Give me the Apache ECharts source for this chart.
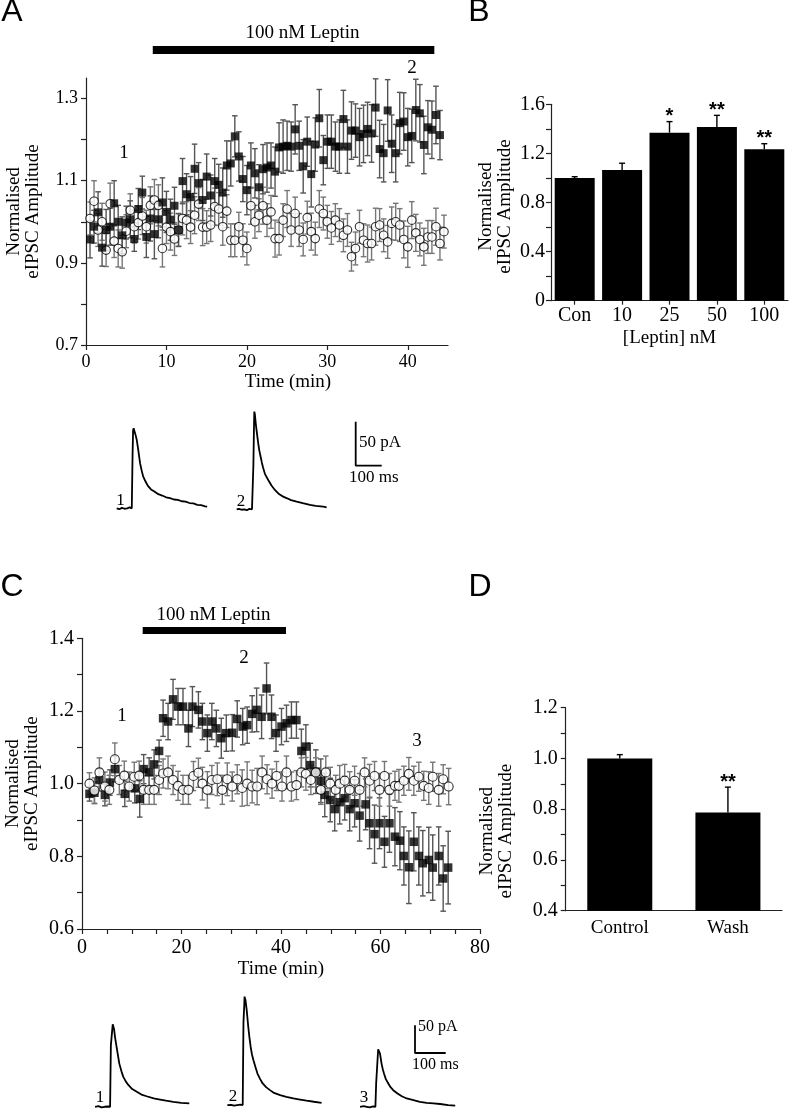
<!DOCTYPE html>
<html><head><meta charset="utf-8">
<script src="https://cdn.jsdelivr.net/npm/echarts@6/dist/echarts.min.js"></script>
<style>html,body{margin:0;padding:0;background:#fff}#c{width:797px;height:1116px}</style>
</head><body><div id="c"></div>
<script>
// ---------- Panel A: time course ----------
const aTimeLep = [0.5,1,1.5,2,2.5,3,3.5,4,4.5,5,5.5,6,6.5,7,7.5,8,8.5,9,9.5,10,10.5,11,11.5,12,12.5,13,13.5,14,14.5,15,15.5,16,16.5,17,17.5,18,18.5,19,19.5,20,20.5,21,21.5,22,22.5,23,23.5,24,24.5,25,25.5,26,26.5,27,27.5,28,28.5,29,29.5,30,30.5,31,31.5,32,32.5,33,33.5,34,34.5,35,35.5,36,36.5,37,37.5,38,38.5,39,39.5,40,40.5,41,41.5,42,42.5,43,43.5,44];
const aLeptin = [0.957,0.988,1.023,0.937,0.98,0.988,1.045,1.0,0.967,0.998,1.006,0.958,1.031,1.071,0.963,1.008,0.97,1.006,1.047,1.024,1.005,1.039,0.98,1.099,1.067,1.06,1.129,1.094,1.053,1.11,1.064,1.099,1.09,1.071,1.137,1.142,1.208,1.159,1.104,1.077,1.137,1.118,1.084,1.128,1.132,1.137,1.122,1.181,1.183,1.185,1.183,1.225,1.185,1.135,1.195,1.116,1.188,1.252,1.15,1.195,1.195,1.183,1.183,1.25,1.183,1.222,1.222,1.206,1.214,1.226,1.215,1.278,1.177,1.167,1.271,1.19,1.167,1.24,1.244,1.206,1.209,1.272,1.264,1.187,1.23,1.224,1.26,1.211];
const aLeptinErr = [0.045,0.04,0.05,0.045,0.05,0.045,0.055,0.04,0.045,0.04,0.045,0.03,0.05,0.04,0.05,0.055,0.06,0.045,0.06,0.05,0.05,0.045,0.04,0.055,0.05,0.05,0.06,0.05,0.05,0.055,0.05,0.055,0.05,0.06,0.06,0.055,0.05,0.06,0.055,0.06,0.055,0.06,0.055,0.06,0.06,0.055,0.06,0.06,0.065,0.06,0.06,0.06,0.06,0.065,0.06,0.08,0.065,0.07,0.06,0.065,0.065,0.06,0.065,0.07,0.065,0.07,0.065,0.07,0.07,0.065,0.07,0.07,0.07,0.07,0.075,0.07,0.07,0.075,0.07,0.07,0.065,0.075,0.07,0.07,0.065,0.07,0.07,0.06];
const aTimeCtl = [0.5,1,1.5,2,2.5,3,3.5,4,4.5,5,5.5,6,6.5,7,7.5,8,8.5,9,9.5,10,10.5,11,11.5,12,12.5,13,13.5,14,14.5,15,15.5,16,16.5,17,17.5,18,18.5,19,19.5,20,20.5,21,21.5,22,22.5,23,23.5,24,24.5,25,25.5,26,26.5,27,27.5,28,28.5,29,29.5,30,30.5,31,31.5,32,32.5,33,33.5,34,34.5,35,35.5,36,36.5,37,37.5,38,38.5,39,39.5,40,40.5,41,41.5,42,42.5,43,43.5,44,44.5];
const aControl = [1.008,1.05,0.98,1.0,0.931,1.044,0.953,0.935,0.927,0.977,1.028,0.988,0.998,1.014,0.988,1.04,1.053,1.04,0.935,0.987,0.976,0.958,0.98,1.008,1.004,0.987,1.016,1.043,0.987,0.987,0.992,1.037,1.031,0.988,1.026,0.955,0.955,0.988,0.955,0.935,1.039,1.0,1.016,1.039,1.004,1.024,0.959,0.959,1.004,1.031,0.98,1.02,0.98,0.957,1.01,0.976,0.959,1.031,1.02,1.0,0.985,1.004,0.992,0.967,0.98,0.915,0.935,0.988,0.955,0.947,0.947,0.988,0.992,0.967,0.951,0.996,1.0,0.992,0.957,0.939,1.004,0.973,0.957,0.939,0.963,0.963,0.988,0.947,0.976];
const aControlErr = [0.04,0.05,0.04,0.045,0.04,0.05,0.04,0.045,0.04,0.04,0.04,0.04,0.04,0.045,0.04,0.045,0.05,0.05,0.045,0.04,0.045,0.04,0.04,0.04,0.045,0.04,0.045,0.04,0.045,0.04,0.04,0.045,0.04,0.045,0.04,0.04,0.04,0.035,0.04,0.04,0.045,0.04,0.04,0.045,0.04,0.04,0.045,0.04,0.04,0.045,0.04,0.04,0.04,0.04,0.04,0.045,0.04,0.045,0.04,0.04,0.04,0.04,0.04,0.04,0.04,0.035,0.04,0.04,0.04,0.045,0.04,0.045,0.04,0.04,0.04,0.04,0.045,0.04,0.045,0.05,0.045,0.045,0.04,0.045,0.04,0.04,0.045,0.04,0.04];
const aLeptinPeriod = [8.3, 43.3];
const aXTicks = [0, 10, 20, 30, 40];
const aYTicks = [0.7, 0.8, 0.9, 1.0, 1.1, 1.2, 1.3];
const aYLabels = [0.7, 0.9, 1.1, 1.3];

// ---------- Panel B: concentration response ----------
const bCats = ['Con', '10', '25', '50', '100'];
const bMean = [1.0, 1.065, 1.369, 1.415, 1.233];
const bErr = [0.01, 0.055, 0.09, 0.095, 0.046];
const bSig = ['', '', '*', '**', '**'];
const bYTicks = [0, 0.2, 0.4, 0.6, 0.8, 1.0, 1.2, 1.4, 1.6];
const bYLabels = [0, 0.4, 0.8, 1.2, 1.6];

// ---------- Panel C: time course with wash ----------
const cTimeLep = [1.5,2.5,3.5,4.6,5.6,6.6,8.6,10.6,11.6,12.4,13.5,14.5,15.5,16.3,17.3,18.3,19.3,20.3,21.4,22.2,23.4,24.2,25.2,26.1,27.0,28.0,29.0,30.2,31.2,32.3,33.2,34.2,35.1,36.1,37.1,38.1,39.0,40.1,41.1,42.1,43.1,44.1,45.0,45.9,47.0,48.0,48.8,49.9,50.8,51.8,52.8,53.8,54.8,55.8,57.0,57.8,58.8,59.8,60.8,61.8,62.9,63.9,64.7,65.7,66.7,67.7,68.5,69.7,70.5,71.7,72.6,73.6];
const cLeptin = [0.972,0.975,1.01,0.969,1.003,1.04,0.972,0.987,0.958,1.04,1.031,1.053,1.09,1.18,1.171,1.232,1.212,1.212,1.152,1.212,1.203,1.171,1.139,1.171,1.152,1.125,1.139,1.14,1.178,1.157,1.161,1.192,1.203,1.184,1.262,1.184,1.139,1.157,1.166,1.175,1.175,1.09,1.102,1.051,1.033,1.008,0.969,0.955,0.93,0.949,0.96,0.93,0.946,0.912,0.943,0.891,0.861,0.891,0.84,0.891,0.854,0.843,0.801,0.77,0.84,0.801,0.781,0.79,0.769,0.801,0.739,0.769];
const cLeptinErr = [0.02,0.03,0.03,0.03,0.035,0.035,0.035,0.04,0.05,0.04,0.04,0.04,0.03,0.05,0.05,0.055,0.05,0.05,0.05,0.055,0.05,0.05,0.05,0.05,0.05,0.055,0.05,0.05,0.05,0.05,0.05,0.05,0.06,0.06,0.07,0.06,0.05,0.05,0.05,0.05,0.05,0.06,0.06,0.06,0.06,0.06,0.06,0.06,0.06,0.06,0.06,0.06,0.065,0.07,0.07,0.07,0.08,0.07,0.07,0.08,0.08,0.08,0.08,0.1,0.08,0.08,0.09,0.09,0.09,0.08,0.09,0.1];
const cTimeCtl = [1.5,2.5,3.5,4.6,5.5,6.6,7.5,8.5,9.5,10.5,11.5,12.4,13.5,14.5,15.5,16.3,17.3,18.3,19.3,20.3,21.4,22.4,23.4,24.2,25.2,26.1,27.2,28.2,29.2,30.2,31.2,32.2,33.2,34.2,35.2,36.2,37.2,38.2,39.1,40.2,41.1,42.1,43.1,44.1,45.0,46.0,47.0,48.0,49.0,49.9,51.0,51.8,52.8,53.8,54.8,55.8,56.8,57.8,58.8,59.8,60.8,61.8,62.9,63.7,64.7,65.7,66.7,67.7,68.7,69.7,70.5,71.7,72.6,73.7];
const cControl = [1.0,0.981,1.031,0.992,0.983,1.067,1.01,1.022,0.992,1.019,1.022,0.983,0.983,0.983,1.01,1.028,1.031,1.01,0.994,0.983,0.983,1.021,1.03,1.0,0.983,1.01,1.012,0.983,1.012,0.992,1.012,0.988,1.0,0.992,0.992,1.031,1.012,1.0,1.021,0.992,1.031,0.992,0.996,1.031,1.027,1.01,1.031,0.983,1.031,1.0,0.983,1.0,1.008,0.983,1.008,0.983,1.031,1.008,1.021,0.983,1.021,0.983,0.994,0.994,1.008,1.027,1.008,1.019,0.994,0.988,1.019,0.983,1.012,0.992];
const cControlErr = [0.03,0.035,0.04,0.04,0.04,0.045,0.04,0.04,0.04,0.04,0.04,0.04,0.04,0.04,0.04,0.04,0.045,0.04,0.04,0.04,0.04,0.04,0.04,0.045,0.05,0.04,0.045,0.04,0.045,0.04,0.04,0.05,0.06,0.045,0.05,0.045,0.04,0.04,0.04,0.04,0.045,0.04,0.04,0.04,0.045,0.04,0.04,0.04,0.045,0.045,0.04,0.05,0.045,0.05,0.04,0.045,0.04,0.045,0.04,0.045,0.04,0.045,0.04,0.045,0.04,0.045,0.04,0.04,0.04,0.045,0.04,0.045,0.04,0.05];
const cLeptinPeriod = [12.2, 41.0];
const cXTicks = [0,5,10,15,20,25,30,35,40,45,50,55,60,65,70,75,80];
const cXLabels = [0, 20, 40, 60, 80];
const cYTicks = [0.6,0.7,0.8,0.9,1.0,1.1,1.2,1.3,1.4];
const cYLabels = [0.6, 0.8, 1.0, 1.2, 1.4];

// ---------- Panel D: control vs wash ----------
const dCats = ['Control', 'Wash'];
const dMean = [1.0, 0.787];
const dErr = [0.015, 0.1];
const dSig = ['', '**'];
const dYTicks = [0.4,0.5,0.6,0.7,0.8,0.9,1.0,1.1,1.2];
const dYLabels = [0.4, 0.6, 0.8, 1.0, 1.2];

// ---------- Example eIPSC traces (ms, pA) ----------
const trA1T = [-60,-50,-40,-30,-20,-10,-2,0,1,3,5,8,12,17,23,30,36,42,50,60,72,85,100,115,130,145,160,175,190,205,220,235,250,265,280,288];
const trA1I = [0,-1,0.5,-0.5,0,1,0,0,60,88,91,89,84,78,66,51,43,36,31,25.5,21.5,19,16,14.5,12.5,11.5,10,9.5,8,7.5,6,5.5,4,3.5,2.3,2];
const trA2T = [-64,-55,-45,-35,-25,-15,-5,-1,0,0.3,3,4,6,10,15,19,23,28,33,38,45,58,70,83,100,115,130,145,167,190,218,240,269,282];
const trA2I = [0,0.5,-0.5,0,-1,0.5,0,0,0,50,100,111,108,96,84,75,67,60,53,47,40,33,27,22,17,14.4,12.5,10.5,8.7,7,5,4,3,2.3];
const trC1T = [-51,-40,-30,-20,-10,-2,0,0.5,5,6.5,9,11,14,20,28,35,41,50,58,70,85,100,117,140,161,180,204,230,256];
const trC1I = [0,1,-1,0,0.5,0,0,111,111,149,148,140,126,105,78,64,54,45,39,32,27,22,19,15,13,11,9,7,6];
const trC2T = [-52,-40,-30,-20,-10,-2,0,0.5,3,4,7,11,16,20,24,28,33,40,46,55,63,75,87,100,120,140,163,185,206,230,255];
const trC2I = [0,0.5,-1,0,1,0,0,150,180,196,190,172,142,122,105,92,81,68,57,47,39,32,27,22,18,15,12,10,8,6,4];
const trC3T = [-52,-40,-30,-20,-10,-2,0,0.5,5,7,9,13,18,22,26,32,40,48,56,70,84,100,122,143,165,187,209,235,258];
const trC3I = [0,1,0,-1,0.5,0,0,43,43,104,103,96,78,68,60,50,42,35,30,24,19,15,12,9,7,6,5,3,2];
const scaleT = [0, 0, 100];   // 100 ms
const scaleI = [50, 0, 0];    // 50 pA

// ---------- helpers ----------
const SERIF = 'Liberation Serif';
const SANS = 'Liberation Sans';
const AX = '#222';
const zip = (a, b, c) => a.map((v, i) => c ? [v, b[i], c[i]] : [v, b[i]]);
const fmt = v => (v === 0 ? '0' : Number(v).toFixed(1));

function valAxis(o) {
  return {
    gridIndex: o.grid, type: 'value', min: o.min, max: o.max,
    name: o.name || '', nameLocation: 'middle', nameGap: o.nameGap || 30, nameRotate: o.nameRotate,
    nameTextStyle: Object.assign({ fontFamily: SERIF, fontSize: 19, color: '#000', lineHeight: 19 }, o.nameStyle || {}),
    axisLine: { show: true, lineStyle: { color: AX, width: 1.2 } },
    axisTick: { show: true, length: 5, customValues: o.ticks, lineStyle: { color: AX, width: 1.2 } },
    axisLabel: { show: true, customValues: o.labels, margin: o.margin, fontFamily: SERIF, fontSize: o.fs, color: '#000', formatter: o.fmt || fmt },
    splitLine: { show: false }
  };
}
function catAxis(o) {
  return {
    gridIndex: o.grid, type: 'category', data: o.data,
    name: o.name || '', nameLocation: 'middle', nameGap: o.nameGap || 30,
    nameTextStyle: { fontFamily: SERIF, fontSize: 19, color: '#000' },
    axisLine: { show: true, lineStyle: { color: AX, width: 1.2 } },
    axisTick: { show: o.tick, alignWithLabel: true, length: 4, lineStyle: { color: AX, width: 1.2 } },
    axisLabel: { margin: o.margin, fontFamily: SERIF, fontSize: o.fs, color: '#000' },
    splitLine: { show: false }
  };
}
function hiddenAxis(grid, min, max) {
  return { gridIndex: grid, type: 'value', min, max, show: false, splitLine: { show: false } };
}
function errRender(color, cap) {
  return function (params, api) {
    const x = api.value(0), y = api.value(1), e = api.value(2);
    const hi = api.coord([x, y + e]), lo = api.coord([x, y - e]);
    const st = { stroke: color, lineWidth: 1.4 };
    return { type: 'group', children: [
      { type: 'line', shape: { x1: hi[0], y1: hi[1], x2: lo[0], y2: lo[1] }, style: st },
      { type: 'line', shape: { x1: hi[0] - cap, y1: hi[1], x2: hi[0] + cap, y2: hi[1] }, style: st },
      { type: 'line', shape: { x1: lo[0] - cap, y1: lo[1], x2: lo[0] + cap, y2: lo[1] }, style: st }
    ]};
  };
}
function barErrRender(sig, cap) {
  return function (params, api) {
    const i = api.value(0), y = api.value(1), e = api.value(2);
    const base = api.coord([i, y]), hi = api.coord([i, y + e]);
    const st = { stroke: '#000', lineWidth: 1.4 };
    return { type: 'group', children: [
      { type: 'line', shape: { x1: hi[0], y1: base[1], x2: hi[0], y2: hi[1] }, style: st },
      { type: 'line', shape: { x1: hi[0] - cap, y1: hi[1], x2: hi[0] + cap, y2: hi[1] }, style: st },
      { type: 'text', style: { text: sig[params.dataIndex], x: hi[0], y: hi[1] - 5, align: 'center', verticalAlign: 'middle', font: 'bold 20px ' + SANS, fill: '#000' } }
    ]};
  };
}
function periodRender(offset, h) {
  return function (params, api) {
    const s = api.coord([api.value(0), 1]), e = api.coord([api.value(1), 1]);
    const top = params.coordSys.y;
    return { type: 'rect', shape: { x: s[0], y: top - offset, width: e[0] - s[0], height: h }, style: { fill: '#000' } };
  };
}
function trace(idx, t, i) {
  return { type: 'line', xAxisIndex: idx, yAxisIndex: idx, data: zip(t, i), showSymbol: false, symbol: 'none',
    lineStyle: { color: '#000', width: 1.8 }, clip: false, silent: true };
}
function txt(x, y, s, font, align) {
  return { type: 'text', x, y, silent: true, style: { text: s, font, fill: '#000', align: align || 'center', verticalAlign: 'middle' } };
}

const chart = echarts.init(document.getElementById('c'), null, { renderer: 'canvas' });
chart.setOption({
  animation: false,
  backgroundColor: '#fff',
  textStyle: { fontFamily: SERIF },
  grid: [
    { left: 86, top: 78, width: 362, height: 267 },        // 0 A
    { left: 551, top: 104.3, width: 237, height: 196.4 },  // 1 B
    { left: 82, top: 638.3, width: 398, height: 290.7 },   // 2 C
    { left: 565.7, top: 707.7, width: 216.3, height: 203 },// 3 D
    { left: 116.7, top: 402.7, width: 93.6, height: 114.4 },  // 4 trace A1
    { left: 237.7, top: 403.7, width: 93.6, height: 114.4 },  // 5 trace A2
    { left: 355.7, top: 421.7, width: 26, height: 44 },       // 6 scale A
    { left: 92.3, top: 990.6, width: 110.5, height: 121.7 },  // 7 trace C1
    { left: 224.9, top: 988.9, width: 110.5, height: 121.7 }, // 8 trace C2
    { left: 357.6, top: 990.6, width: 110.5, height: 121.7 }, // 9 trace C3
    { left: 415, top: 1025.3, width: 30.7, height: 27.7 }     // 10 scale C
  ],
  xAxis: [
    valAxis({ grid: 0, min: 0, max: 45, ticks: aXTicks, labels: aXTicks, fs: 18, margin: 8, fmt: v => String(v), name: 'Time (min)', nameGap: 28, nameStyle: { padding: [0, 0, 0, 42] } }),
    catAxis({ grid: 1, data: bCats, fs: 20, margin: 5, tick: true, name: '[Leptin] nM', nameGap: 28 }),
    valAxis({ grid: 2, min: 0, max: 80, ticks: cXTicks, labels: cXLabels, fs: 20, margin: 9, fmt: v => String(v), name: 'Time (min)', nameGap: 31 }),
    catAxis({ grid: 3, data: dCats, fs: 19, margin: 8, tick: false }),
    hiddenAxis(4, -60, 300), hiddenAxis(5, -60, 300), hiddenAxis(6, 0, 100),
    hiddenAxis(7, -60, 300), hiddenAxis(8, -60, 300), hiddenAxis(9, -60, 300), hiddenAxis(10, 0, 100)
  ],
  yAxis: [
    valAxis({ grid: 0, min: 0.7, max: 1.35, ticks: aYTicks, labels: aYLabels, fs: 18, margin: 8, name: 'Normalised\neIPSC Amplitude', nameGap: 43, nameRotate: 90 }),
    valAxis({ grid: 1, min: 0, max: 1.6, ticks: bYTicks, labels: bYLabels, fs: 20, margin: 6, name: 'Normalised\neIPSC Amplitude', nameGap: 36, nameRotate: 90, nameStyle: { padding: [0, 8, 0, 0] } }),
    valAxis({ grid: 2, min: 0.6, max: 1.4, ticks: cYTicks, labels: cYLabels, fs: 20, margin: 8, name: 'Normalised\neIPSC Amplitude', nameGap: 40, nameRotate: 90 }),
    valAxis({ grid: 3, min: 0.4, max: 1.2, ticks: dYTicks, labels: dYLabels, fs: 20, margin: 8, name: 'Normalised\neIPSC Amplitude', nameGap: 50, nameRotate: 90, nameStyle: { padding: [0, 44, 0, 0] } }),
    hiddenAxis(4, -10, 120), hiddenAxis(5, -10, 120), hiddenAxis(6, 0, 50),
    hiddenAxis(7, -10, 210), hiddenAxis(8, -10, 210), hiddenAxis(9, -10, 210), hiddenAxis(10, 0, 50)
  ],
  series: [
    // Panel A
    { type: 'custom', xAxisIndex: 0, yAxisIndex: 0, renderItem: periodRender(32, 8), data: [aLeptinPeriod], encode: { x: [0, 1] }, clip: false, silent: true },
    { type: 'custom', xAxisIndex: 0, yAxisIndex: 0, renderItem: errRender('#777', 2.8), data: zip(aTimeCtl, aControl, aControlErr), encode: { x: 0, y: 1 }, silent: true },
    { type: 'custom', xAxisIndex: 0, yAxisIndex: 0, renderItem: errRender('#555', 2.8), data: zip(aTimeLep, aLeptin, aLeptinErr), encode: { x: 0, y: 1 }, silent: true },
    { type: 'scatter', xAxisIndex: 0, yAxisIndex: 0, data: zip(aTimeCtl, aControl), symbol: 'circle', symbolSize: 8.5, itemStyle: { color: '#fff', borderColor: '#000', borderWidth: 1.1 }, silent: true },
    { type: 'scatter', xAxisIndex: 0, yAxisIndex: 0, data: zip(aTimeLep, aLeptin), symbol: 'rect', symbolSize: 8, itemStyle: { color: '#000' }, silent: true },
    // Panel B
    { type: 'bar', xAxisIndex: 1, yAxisIndex: 1, data: bMean, barWidth: 40, itemStyle: { color: '#000' }, silent: true },
    { type: 'custom', xAxisIndex: 1, yAxisIndex: 1, renderItem: barErrRender(bSig, 3), data: bMean.map((m, i) => [i, m, bErr[i]]), encode: { x: 0, y: 1 }, silent: true, z: 5 },
    // Panel C
    { type: 'custom', xAxisIndex: 2, yAxisIndex: 2, renderItem: periodRender(11.3, 7), data: [cLeptinPeriod], encode: { x: [0, 1] }, clip: false, silent: true },
    { type: 'custom', xAxisIndex: 2, yAxisIndex: 2, renderItem: errRender('#555', 2.8), data: zip(cTimeLep, cLeptin, cLeptinErr), encode: { x: 0, y: 1 }, silent: true },
    { type: 'scatter', xAxisIndex: 2, yAxisIndex: 2, data: zip(cTimeLep, cLeptin), symbol: 'rect', symbolSize: 8.5, itemStyle: { color: '#000' }, silent: true },
    { type: 'custom', xAxisIndex: 2, yAxisIndex: 2, renderItem: errRender('#777', 2.8), data: zip(cTimeCtl, cControl, cControlErr), encode: { x: 0, y: 1 }, silent: true },
    { type: 'scatter', xAxisIndex: 2, yAxisIndex: 2, data: zip(cTimeCtl, cControl), symbol: 'circle', symbolSize: 9, itemStyle: { color: '#fff', borderColor: '#000', borderWidth: 1.1 }, silent: true },
    // Panel D
    { type: 'bar', xAxisIndex: 3, yAxisIndex: 3, data: dMean, barWidth: 65, itemStyle: { color: '#000' }, silent: true },
    { type: 'custom', xAxisIndex: 3, yAxisIndex: 3, renderItem: barErrRender(dSig, 3), data: dMean.map((m, i) => [i, m, dErr[i]]), encode: { x: 0, y: 1 }, silent: true, z: 5 },
    // Traces
    trace(4, trA1T, trA1I), trace(5, trA2T, trA2I), trace(6, scaleT, scaleI),
    trace(7, trC1T, trC1I), trace(8, trC2T, trC2I), trace(9, trC3T, trC3I), trace(10, scaleT, scaleI)
  ],
  graphic: [
    txt(12, 12, 'A', '32px ' + SANS),
    txt(479, 12, 'B', '32px ' + SANS),
    txt(12, 587, 'C', '32px ' + SANS),
    txt(480, 587, 'D', '32px ' + SANS),
    txt(302.5, 33, '100 nM Leptin', '19px ' + SERIF),
    txt(124, 153, '1', '19px ' + SERIF),
    txt(412, 68, '2', '19px ' + SERIF),
    txt(213.5, 615, '100 nM Leptin', '19px ' + SERIF),
    txt(122, 716, '1', '19px ' + SERIF),
    txt(244, 658, '2', '19px ' + SERIF),
    txt(417, 741, '3', '19px ' + SERIF),
    txt(120.5, 501, '1', '17px ' + SERIF),
    txt(241, 502, '2', '17px ' + SERIF),
    txt(359, 443, '50 pA', '17px ' + SERIF, 'left'),
    txt(349, 478, '100 ms', '17px ' + SERIF, 'left'),
    txt(100, 1098, '1', '17px ' + SERIF),
    txt(233, 1097, '2', '17px ' + SERIF),
    txt(364, 1098, '3', '17px ' + SERIF),
    txt(418, 1027, '50 pA', '16px ' + SERIF, 'left'),
    txt(412, 1065, '100 ms', '16px ' + SERIF, 'left')
  ]
});
</script>
</body></html>
